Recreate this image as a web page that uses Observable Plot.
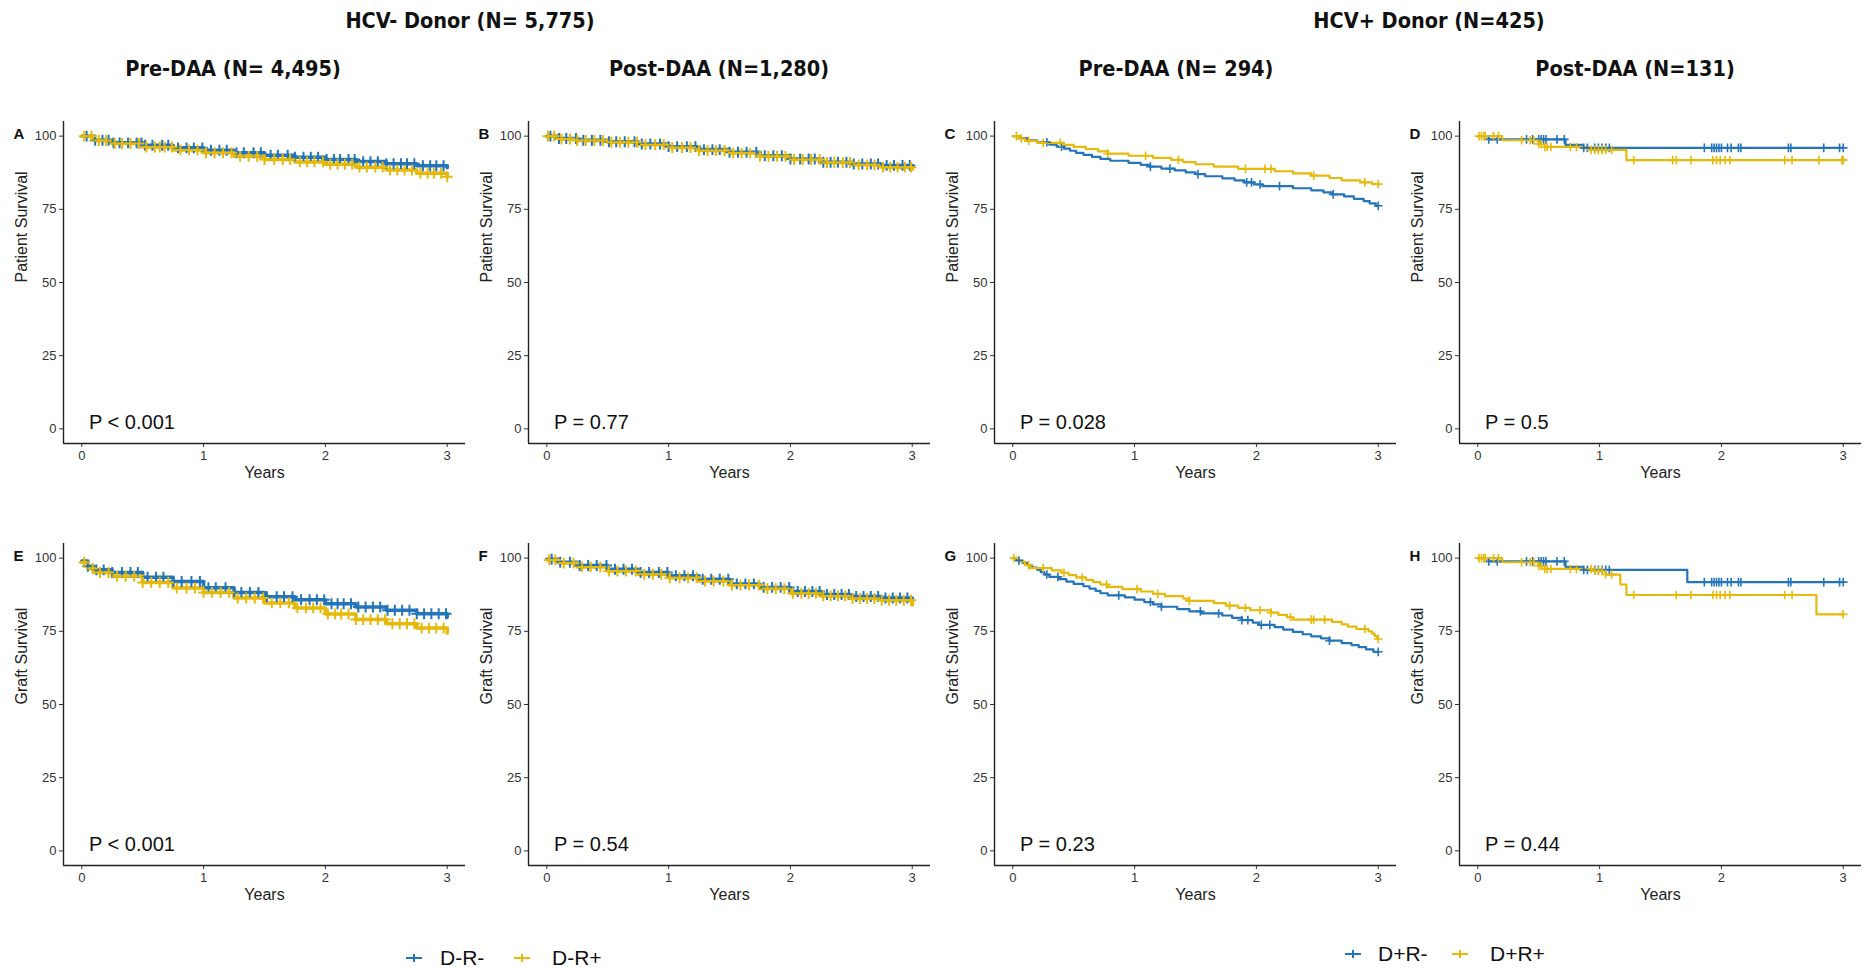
<!DOCTYPE html>
<html><head><meta charset="utf-8">
<script src="https://cdn.jsdelivr.net/npm/d3@7"></script>
<script src="https://cdn.jsdelivr.net/npm/@observablehq/plot@0.6"></script>
<style>
body{margin:0;background:#fff;width:1863px;height:970px;position:relative;overflow:hidden;font-family:"Liberation Sans",Arial,sans-serif}
.t{position:absolute;font-family:"Liberation Sans Narrow","Arial Narrow","DejaVu Sans Condensed","Liberation Sans",sans-serif;font-weight:bold;font-size:21.5px;transform:translate(-50%,-50%);white-space:nowrap;color:#111}
.p{position:absolute}
.lt{position:absolute;font-size:21px;color:#111;transform:translateY(-50%);white-space:nowrap}
.li{position:absolute;transform:translate(-50%,-50%)}
</style></head><body>
<script>
// ---------- data ----------
const BLUE = "#2474BA", YELLOW = "#E6B90A";
const topTitles = ["HCV- Donor (N= 5,775)", "HCV+ Donor (N=425)"];
const subTitles = ["Pre-DAA (N= 4,495)", "Post-DAA (N=1,280)", "Pre-DAA (N= 294)", "Post-DAA (N=131)"];
const panelLetters = ["A","B","C","D","E","F","G","H"];
const pValues = ["P < 0.001","P = 0.77","P = 0.028","P = 0.5","P < 0.001","P = 0.54","P = 0.23","P = 0.44"];
const rowLabels = ["Patient Survival","Graft Survival"];
const groupsNeg = ["D-R-","D-R+"];
const groupsPos = ["D+R-","D+R+"];
const xTicks = [0,1,2,3];
const yTicks = [0,25,50,75,100];

// [years, survival %]
const A_blue = [[0,100],[0.1,98.6],[0.25,97.7],[0.5,96.9],[0.75,96.0],[1,95.2],[1.25,94.3],[1.5,93.5],[1.75,92.8],[2,92.0],[2.25,91.3],[2.5,90.6],[2.75,89.9],[3,89.2]];
const A_yellow = [[0,100],[0.1,98.5],[0.25,97.5],[0.5,96.3],[0.75,95.3],[1,94.3],[1.25,93.1],[1.5,92.0],[1.75,91.2],[2,90.4],[2.25,89.4],[2.5,88.4],[2.75,87.3],[3,86.1]];
const B_blue = [[0,100],[0.1,99.2],[0.25,98.6],[0.5,98.1],[0.75,97.3],[1,96.4],[1.25,95.4],[1.5,94.5],[1.75,93.3],[2,92.2],[2.25,91.1],[2.5,90.5],[2.75,90.0],[3,89.6]];
const B_yellow = [[0,100],[0.1,99.0],[0.25,98.5],[0.5,97.9],[0.75,97.1],[1,96.1],[1.25,95.1],[1.5,94.2],[1.75,93.1],[2,92.0],[2.25,91.0],[2.5,90.2],[2.75,89.4],[3,88.7]];
const C_blue = [[0,100],[0.06,99.3],[0.12,98.6],[0.2,97.9],[0.3,97.1],[0.36,96.4],[0.42,95.7],[0.47,95.0],[0.52,94.3],[0.58,93.6],[0.65,92.9],[0.72,92.2],[0.8,91.6],[0.95,90.9],[1.05,90.2],[1.12,89.6],[1.22,88.9],[1.33,88.3],[1.42,87.6],[1.5,87.0],[1.58,86.3],[1.72,85.6],[1.82,84.9],[1.9,84.2],[1.98,83.5],[2.05,82.9],[2.3,82.2],[2.45,81.5],[2.55,80.8],[2.62,80.1],[2.72,79.4],[2.8,78.6],[2.88,77.8],[2.93,77.0],[2.98,76.2],[3.0,76.2]];
const C_yellow = [[0,100],[0.05,99.2],[0.1,98.4],[0.2,97.7],[0.42,97.0],[0.5,96.3],[0.6,95.6],[0.7,94.8],[0.78,94.0],[0.95,93.3],[1.15,92.6],[1.3,91.9],[1.4,91.1],[1.5,90.4],[1.65,89.6],[1.85,88.8],[2.15,88.0],[2.3,87.3],[2.45,86.5],[2.6,85.7],[2.7,84.9],[2.85,84.2],[2.95,83.6],[3.0,83.6]];
const D_blue = [[0,100],[0.09,98.9],[0.72,97.0],[0.86,96.0],[3,96.0]];
const D_yellow = [[0,100],[0.2,98.6],[0.5,97.3],[0.55,96.3],[0.9,95.3],[1.22,91.8],[3,91.8]];
const E_blue = [[0,99.0],[0.05,97.2],[0.1,96.0],[0.25,95.1],[0.5,93.5],[0.75,92.0],[1,89.9],[1.25,88.3],[1.5,86.8],[1.75,85.8],[2,84.4],[2.25,83.3],[2.5,82.2],[2.75,81.0],[3,79.8]];
const E_yellow = [[0,98.5],[0.05,96.5],[0.1,95.1],[0.25,93.8],[0.5,91.7],[0.75,89.8],[1,88.3],[1.25,86.4],[1.5,84.7],[1.75,83.0],[2,80.9],[2.25,79.0],[2.5,77.6],[2.75,76.1],[3,74.4]];
const F_blue = [[0,99.6],[0.1,98.6],[0.25,97.5],[0.5,96.2],[0.75,95.1],[1,94.0],[1.25,92.8],[1.5,91.2],[1.75,90.0],[2,88.6],[2.25,87.6],[2.5,86.9],[2.75,86.4],[3,85.3]];
const F_yellow = [[0,99.4],[0.1,98.3],[0.25,97.0],[0.5,95.6],[0.75,94.5],[1,93.3],[1.25,92.2],[1.5,90.8],[1.75,89.6],[2,88.0],[2.25,87.1],[2.5,86.2],[2.75,85.6],[3,84.0]];
const G_blue = [[0,100],[0.03,99.2],[0.08,98.4],[0.12,97.6],[0.16,96.8],[0.2,96.0],[0.23,95.2],[0.26,94.4],[0.3,93.6],[0.38,92.8],[0.44,92.0],[0.5,91.2],[0.58,90.4],[0.63,89.6],[0.68,88.8],[0.72,88.0],[0.78,87.3],[0.92,86.6],[1.0,85.8],[1.08,85.0],[1.15,84.2],[1.22,83.4],[1.35,82.6],[1.45,81.8],[1.55,81.1],[1.72,80.4],[1.8,79.6],[1.88,78.8],[1.97,78.0],[2.02,77.2],[2.15,76.4],[2.22,75.6],[2.3,74.8],[2.38,74.0],[2.45,73.3],[2.53,72.6],[2.6,71.8],[2.7,71.0],[2.78,70.3],[2.84,69.6],[2.9,68.8],[2.96,68.0],[3.0,68.0]];
const G_yellow = [[0,100],[0.05,98.8],[0.1,97.6],[0.14,96.6],[0.32,95.8],[0.4,95.0],[0.46,94.2],[0.52,93.4],[0.6,92.6],[0.66,91.8],[0.72,91.0],[0.78,90.2],[0.9,89.4],[1.05,88.6],[1.15,87.8],[1.25,87.0],[1.4,86.2],[1.45,85.4],[1.65,84.6],[1.75,83.8],[1.85,83.0],[1.95,82.2],[2.12,81.4],[2.18,80.6],[2.25,79.8],[2.3,79.0],[2.62,78.2],[2.7,77.4],[2.75,76.6],[2.82,75.8],[2.92,75.0],[2.95,74.2],[2.97,73.4],[2.99,72.6],[3.0,72.4]];
const H_blue = [[0,100],[0.09,98.9],[0.72,97.0],[0.86,96.0],[1.72,91.8],[3,91.8]];
const H_yellow = [[0,100],[0.2,98.6],[0.5,97.3],[0.55,96.3],[0.95,95.6],[1.05,94.4],[1.17,91.0],[1.22,87.4],[2.78,80.8],[3,80.8]];

// censoring times (years)
const A_blueC = [0.04,0.11,0.17,0.22,0.26,0.31,0.38,0.45,0.49,0.52,0.58,0.66,0.71,0.79,0.86,0.92,0.99,1.06,1.13,1.19,1.27,1.33,1.41,1.47,1.55,1.61,1.69,1.75,1.82,1.88,1.94,2.01,2.07,2.12,2.19,2.24,2.31,2.37,2.43,2.5,2.56,2.62,2.67,2.73,2.8,2.86,2.91,2.97];
const A_yellowC = [0.02,0.08,0.14,0.2,0.27,0.33,0.4,0.47,0.53,0.6,0.64,0.68,0.74,0.81,0.88,0.95,1.02,1.09,1.16,1.23,1.3,1.37,1.44,1.5,1.58,1.65,1.71,1.79,1.85,1.91,1.98,2.04,2.1,2.16,2.22,2.28,2.34,2.41,2.47,2.53,2.59,2.65,2.71,2.78,2.84,2.89,2.95,3.0];
const B_blueC = [0.03,0.1,0.16,0.24,0.3,0.37,0.44,0.51,0.57,0.64,0.72,0.78,0.85,0.93,1.0,1.07,1.15,1.22,1.29,1.36,1.42,1.5,1.57,1.64,1.72,1.79,1.86,1.93,2.0,2.08,2.15,2.2,2.27,2.33,2.39,2.46,2.52,2.59,2.66,2.72,2.79,2.85,2.92,2.98];
const B_yellowC = [0.01,0.06,0.12,0.19,0.25,0.32,0.39,0.46,0.53,0.6,0.67,0.74,0.81,0.89,0.96,1.03,1.11,1.18,1.25,1.32,1.39,1.46,1.53,1.6,1.67,1.75,1.82,1.89,1.96,2.03,2.1,2.17,2.24,2.3,2.36,2.43,2.49,2.56,2.63,2.69,2.76,2.82,2.88,2.94,2.99];
const C_blueC = [0.28,0.4,1.13,1.29,1.52,1.92,1.96,2.03,2.19,2.63,3.0];
const C_yellowC = [0.03,0.07,0.13,0.25,0.39,0.78,1.09,1.36,1.91,2.07,2.12,2.47,2.89,3.0];
const D_blueC = [0.09,0.16,0.4,0.45,0.5,0.52,0.54,0.56,0.65,0.71,0.87,0.9,0.96,0.99,1.02,1.05,1.08,1.86,1.92,1.94,1.96,1.98,2.0,2.05,2.08,2.14,2.16,2.55,2.57,2.84,2.97,3.0];
const D_yellowC = [0.01,0.03,0.05,0.06,0.13,0.17,0.36,0.43,0.46,0.5,0.52,0.55,0.57,0.6,0.76,0.81,0.93,0.96,0.99,1.02,1.05,1.1,1.28,1.6,1.63,1.75,1.93,1.96,1.99,2.03,2.07,2.52,2.58,2.8,2.99,3.0];
const E_blueC = [0.05,0.12,0.18,0.25,0.33,0.4,0.46,0.54,0.61,0.67,0.75,0.82,0.9,0.97,1.04,1.1,1.18,1.25,1.31,1.38,1.45,1.52,1.6,1.66,1.73,1.8,1.87,1.93,1.99,2.05,2.1,2.15,2.21,2.27,2.33,2.39,2.45,2.51,2.57,2.63,2.69,2.75,2.81,2.87,2.93,2.99];
const E_yellowC = [0.02,0.09,0.15,0.22,0.29,0.36,0.43,0.5,0.57,0.64,0.71,0.78,0.86,0.93,1.0,1.07,1.14,1.21,1.28,1.35,1.42,1.49,1.56,1.63,1.7,1.77,1.84,1.9,1.96,2.02,2.08,2.13,2.19,2.25,2.31,2.37,2.43,2.49,2.55,2.61,2.67,2.73,2.79,2.85,2.91,2.97];
const F_blueC = [0.04,0.11,0.19,0.27,0.34,0.41,0.49,0.56,0.63,0.7,0.77,0.84,0.92,0.99,1.06,1.13,1.2,1.28,1.35,1.42,1.49,1.56,1.63,1.7,1.78,1.85,1.92,1.99,2.06,2.12,2.18,2.24,2.3,2.36,2.42,2.48,2.54,2.6,2.66,2.72,2.78,2.84,2.9,2.96];
const F_yellowC = [0.02,0.07,0.14,0.22,0.29,0.36,0.44,0.51,0.58,0.65,0.73,0.8,0.87,0.94,1.01,1.09,1.16,1.23,1.3,1.37,1.45,1.52,1.59,1.66,1.74,1.81,1.88,1.95,2.02,2.09,2.15,2.21,2.27,2.33,2.39,2.45,2.51,2.57,2.63,2.69,2.75,2.81,2.87,2.93,2.99];
const G_blueC = [0.05,0.28,0.37,0.87,1.13,1.22,1.54,1.69,1.88,1.93,2.04,2.11,2.6,3.0];
const G_yellowC = [0.01,0.13,0.25,0.42,0.57,0.77,1.02,1.19,1.45,1.78,1.91,2.03,2.12,2.28,2.45,2.47,2.56,2.89,3.0];
const H_blueC = [0.09,0.16,0.4,0.45,0.5,0.52,0.54,0.56,0.65,0.71,0.87,0.9,0.96,0.99,1.02,1.05,1.08,1.86,1.92,1.94,1.96,1.98,2.0,2.05,2.08,2.14,2.16,2.55,2.57,2.84,2.97,3.0];
const H_yellowC = [0.01,0.03,0.05,0.06,0.13,0.17,0.36,0.43,0.46,0.5,0.52,0.55,0.57,0.6,0.76,0.81,0.93,0.96,0.99,1.02,1.05,1.1,1.28,1.63,1.75,1.93,1.96,1.99,2.03,2.07,2.52,2.58,3.0];

// ---------- layout ----------
const panels = [
  {b:A_blue,y:A_yellow,bc:A_blueC,yc:A_yellowC,g:groupsNeg,dense:true},
  {b:B_blue,y:B_yellow,bc:B_blueC,yc:B_yellowC,g:groupsNeg,dense:true},
  {b:C_blue,y:C_yellow,bc:C_blueC,yc:C_yellowC,g:groupsPos,dense:false},
  {b:D_blue,y:D_yellow,bc:D_blueC,yc:D_yellowC,g:groupsPos,dense:false},
  {b:E_blue,y:E_yellow,bc:E_blueC,yc:E_yellowC,g:groupsNeg,dense:true},
  {b:F_blue,y:F_yellow,bc:F_blueC,yc:F_yellowC,g:groupsNeg,dense:true},
  {b:G_blue,y:G_yellow,bc:G_blueC,yc:G_yellowC,g:groupsPos,dense:false},
  {b:H_blue,y:H_yellow,bc:H_blueC,yc:H_yellowC,g:groupsPos,dense:false}
];

function survAt(series, t){ let v = series[0][1]; for (const [x,s] of series) { if (x <= t) v = s; else break; } return v; }

function panel(i){
  const p = panels[i];
  const lines = [...p.b.map(([t,s])=>({t,s,g:p.g[0]})), ...p.y.map(([t,s])=>({t,s,g:p.g[1]}))];
  const cens = [...p.bc.map(t=>({t,s:survAt(p.b,t),g:p.g[0]})), ...p.yc.map(t=>({t,s:survAt(p.y,t),g:p.g[1]}))];
  return Plot.plot({
    width:465, height:393, marginLeft:63, marginRight:0, marginTop:21, marginBottom:50,
    style:{fontFamily:"'Liberation Sans', Arial, sans-serif", fontSize:"13px", color:"#333", background:"transparent", overflow:"visible"},
    x:{domain:[-0.15,3.15], ticks:xTicks, tickSize:4, tickPadding:3, label:null, tickFormat:d3.format("d")},
    y:{domain:[-5,105], ticks:yTicks, tickSize:4, tickPadding:3, label:null},
    color:{domain:p.g, range:[BLUE,YELLOW]},
    marks:[
      Plot.ruleX([-0.15],{stroke:"#222", strokeWidth:1.4}),
      Plot.ruleY([-5],{stroke:"#222", strokeWidth:1.4}),
      Plot.line(lines,{x:"t", y:"s", z:"g", stroke:"g", curve:"step-after", strokeWidth: p.dense ? 3.5 : 2.2}),
      Plot.dot(cens,{x:"t", y:"s", stroke:"g", symbol:"plus", r: p.dense ? 3.6 : 2.9, strokeWidth: p.dense ? 2 : 1.6}),
      Plot.text([pValues[i]],{x:0.06, y:2.3, text:d=>d, textAnchor:"start", fontSize:20, fill:"#111"}),
      Plot.text([panelLetters[i]],{frameAnchor:"top-left", dx:-50, dy:7, text:d=>d, textAnchor:"start", fontWeight:"bold", fontSize:15, fill:"#111"}),
      Plot.text([rowLabels[Math.floor(i/4)]],{frameAnchor:"left", rotate:-90, dx:-42, text:d=>d, fontSize:16, fill:"#222"}),
      Plot.text(["Years"],{frameAnchor:"bottom", dy:34, text:d=>d, fontSize:16, fill:"#222"})
    ]
  });
}

const colLeft = [0, 465.3, 930.6, 1396];
const rowTop = [100, 522.2];
for (let i = 0; i < 8; i++){
  const d = document.createElement("div");
  d.className = "p";
  d.style.left = colLeft[i%4] + "px";
  d.style.top = rowTop[Math.floor(i/4)] + "px";
  d.appendChild(panel(i));
  document.body.appendChild(d);
}

function addText(txt, x, y){
  const d = document.createElement("div"); d.className = "t"; d.textContent = txt;
  d.style.left = x + "px"; d.style.top = y + "px"; document.body.appendChild(d);
}
addText(topTitles[0], 470, 20);
addText(topTitles[1], 1429, 20);
[233, 719, 1176, 1635].forEach((x,i)=>addText(subTitles[i], x, 68));

function plusIcon(color, x, y){
  const d = document.createElement("div"); d.className = "li";
  d.style.left = x + "px"; d.style.top = y + "px";
  d.innerHTML = `<svg width="18" height="12" viewBox="0 0 18 12" style="display:block"><line x1="1" y1="6" x2="17" y2="6" stroke="${color}" stroke-width="2"/><line x1="9" y1="2" x2="9" y2="10" stroke="${color}" stroke-width="2"/></svg>`;
  document.body.appendChild(d);
}
function legendText(txt, x, y){
  const d = document.createElement("div"); d.className = "lt"; d.textContent = txt;
  d.style.left = x + "px"; d.style.top = y + "px"; document.body.appendChild(d);
}
plusIcon(BLUE, 414, 958); legendText(groupsNeg[0], 440, 958);
plusIcon(YELLOW, 522, 958); legendText(groupsNeg[1], 552, 958);
plusIcon(BLUE, 1353, 954); legendText(groupsPos[0], 1378, 954);
plusIcon(YELLOW, 1460, 954); legendText(groupsPos[1], 1490, 954);
</script>
</body></html>
